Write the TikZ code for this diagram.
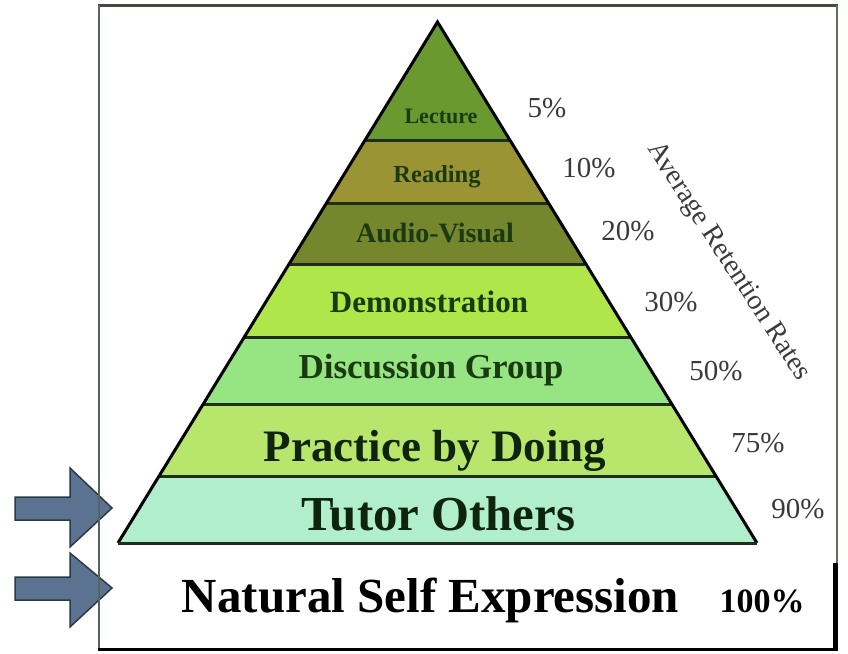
\documentclass[tikz,border=0pt]{standalone}
\usepackage{fontspec}
\setmainfont{Liberation Serif}
\usetikzlibrary{calc}
\definecolor{cLecture}{HTML}{6A9930}
\definecolor{cReading}{HTML}{9B9434}
\definecolor{cAudio}{HTML}{76862C}
\definecolor{cDemo}{HTML}{B0E64A}
\definecolor{cDisc}{HTML}{96E482}
\definecolor{cPrac}{HTML}{B8E66C}
\definecolor{cTutor}{HTML}{B0EECC}
\definecolor{txtgreen}{HTML}{1A3A12}
\definecolor{darktxt}{HTML}{0F240C}
\definecolor{pctgray}{HTML}{3A3A3A}
\definecolor{sepdark}{HTML}{1E2E18}
\definecolor{frameTop}{HTML}{3F4C3C}
\definecolor{frameLeft}{HTML}{56665A}
\definecolor{frameRight}{HTML}{5F6D5C}
\definecolor{arrowblue}{HTML}{5B7391}
\definecolor{arrowedge}{HTML}{2B3A4A}
\begin{document}
\begin{tikzpicture}[x=1pt,y=-1pt,
  lbl/.style={font=\bfseries\fontsize{#1}{#1}\selectfont, text=txtgreen, inner sep=0pt, anchor=base},
  pct/.style={font=\fontsize{29}{29}\selectfont, text=pctgray, inner sep=0pt, anchor=base},
  sepline/.style={line width=3pt, draw=sepdark},
  blockarrow/.style={fill=arrowblue, draw=arrowedge, line width=1.5pt, line join=miter}]
\useasboundingbox (0,0) rectangle (848,653);
\fill[white] (0,0) rectangle (848,653);

% block arrows
\filldraw[blockarrow] (15,497) -- (70,497) -- (70,468) -- (112,508) -- (70,547) -- (70,520) -- (15,520) -- cycle;
\filldraw[blockarrow] (15,577) -- (70,577) -- (70,553) -- (112,588) -- (70,627) -- (70,600) -- (15,600) -- cycle;

% frame
\draw[line width=3pt, draw=frameTop] (98,5) -- (838,5);
\draw[line width=2.5pt, draw=frameLeft] (99,5) -- (99,650);
\draw[line width=2.5pt, draw=frameRight] (837,5) -- (837,563);
\draw[line width=5pt, black] (835.5,563) -- (835.5,650.5);
\draw[line width=3pt, black] (98,649) -- (838,649);

% pyramid
\coordinate (A) at (437.5,22);
\coordinate (BL) at (118,543);
\coordinate (BR) at (757,543);
\foreach \n/\t in {1/0.2265,2/0.3493,3/0.4645,4/0.6046,5/0.7351,6/0.8733}{
  \coordinate (L\n) at ($(A)!\t!(BL)$);
  \coordinate (R\n) at ($(A)!\t!(BR)$);
}
\coordinate (L7) at (BL);
\coordinate (R7) at (BR);

\fill[cLecture] (A) -- (L1) -- (R1) -- cycle;
\fill[cReading] (L1) -- (L2) -- (R2) -- (R1) -- cycle;
\fill[cAudio] (L2) -- (L3) -- (R3) -- (R2) -- cycle;
\fill[cDemo] (L3) -- (L4) -- (R4) -- (R3) -- cycle;
\fill[cDisc] (L4) -- (L5) -- (R5) -- (R4) -- cycle;
\fill[cPrac] (L5) -- (L6) -- (R6) -- (R5) -- cycle;
\fill[cTutor] (L6) -- (L7) -- (R7) -- (R6) -- cycle;

\foreach \n in {1,...,6}{
  \draw[sepline] (L\n) -- (R\n);
}
\draw[line width=3pt, black, line join=miter] (BL) -- (A) -- (BR);
\draw[line width=3pt, draw=sepdark] (BL) -- (BR);

% layer labels
\node[lbl=22] (lecture) at (441,123) {Lecture};
\node[lbl=24.5] (reading) at (437,182) {Reading};
\node[lbl=28] (audio) at (435,242) {Audio-Visual};
\node[lbl=31] (demo) at (429,312) {Demonstration};
\node[lbl=35] (disc) at (431,378) {Discussion Group};
\node[lbl=45, text=darktxt] (prac) at (435,461) {Practice by Doing};
\node[lbl=48.8, text=darktxt] (tutor) at (438.5,530) {Tutor Others};
\node[lbl=49, text=black] (nse) at (430.5,612) {Natural Self Expression};

% percentages
\node[pct] (p5) at (547,117) {5\%};
\node[pct] (p10) at (589,177) {10\%};
\node[pct] (p20) at (628,240) {20\%};
\node[pct] (p30) at (671,311) {30\%};
\node[pct] (p50) at (716,380) {50\%};
\node[pct] (p75) at (758,452) {75\%};
\node[pct] (p90) at (798,518) {90\%};
\node[lbl=34, text=black] (p100) at (762,612) {100\%};

\node[font=\fontsize{28}{28}\selectfont, text=pctgray, rotate=-57, inner sep=0pt] (avg) at (728,262) {Average Retention Rates};
\end{tikzpicture}
\end{document}
